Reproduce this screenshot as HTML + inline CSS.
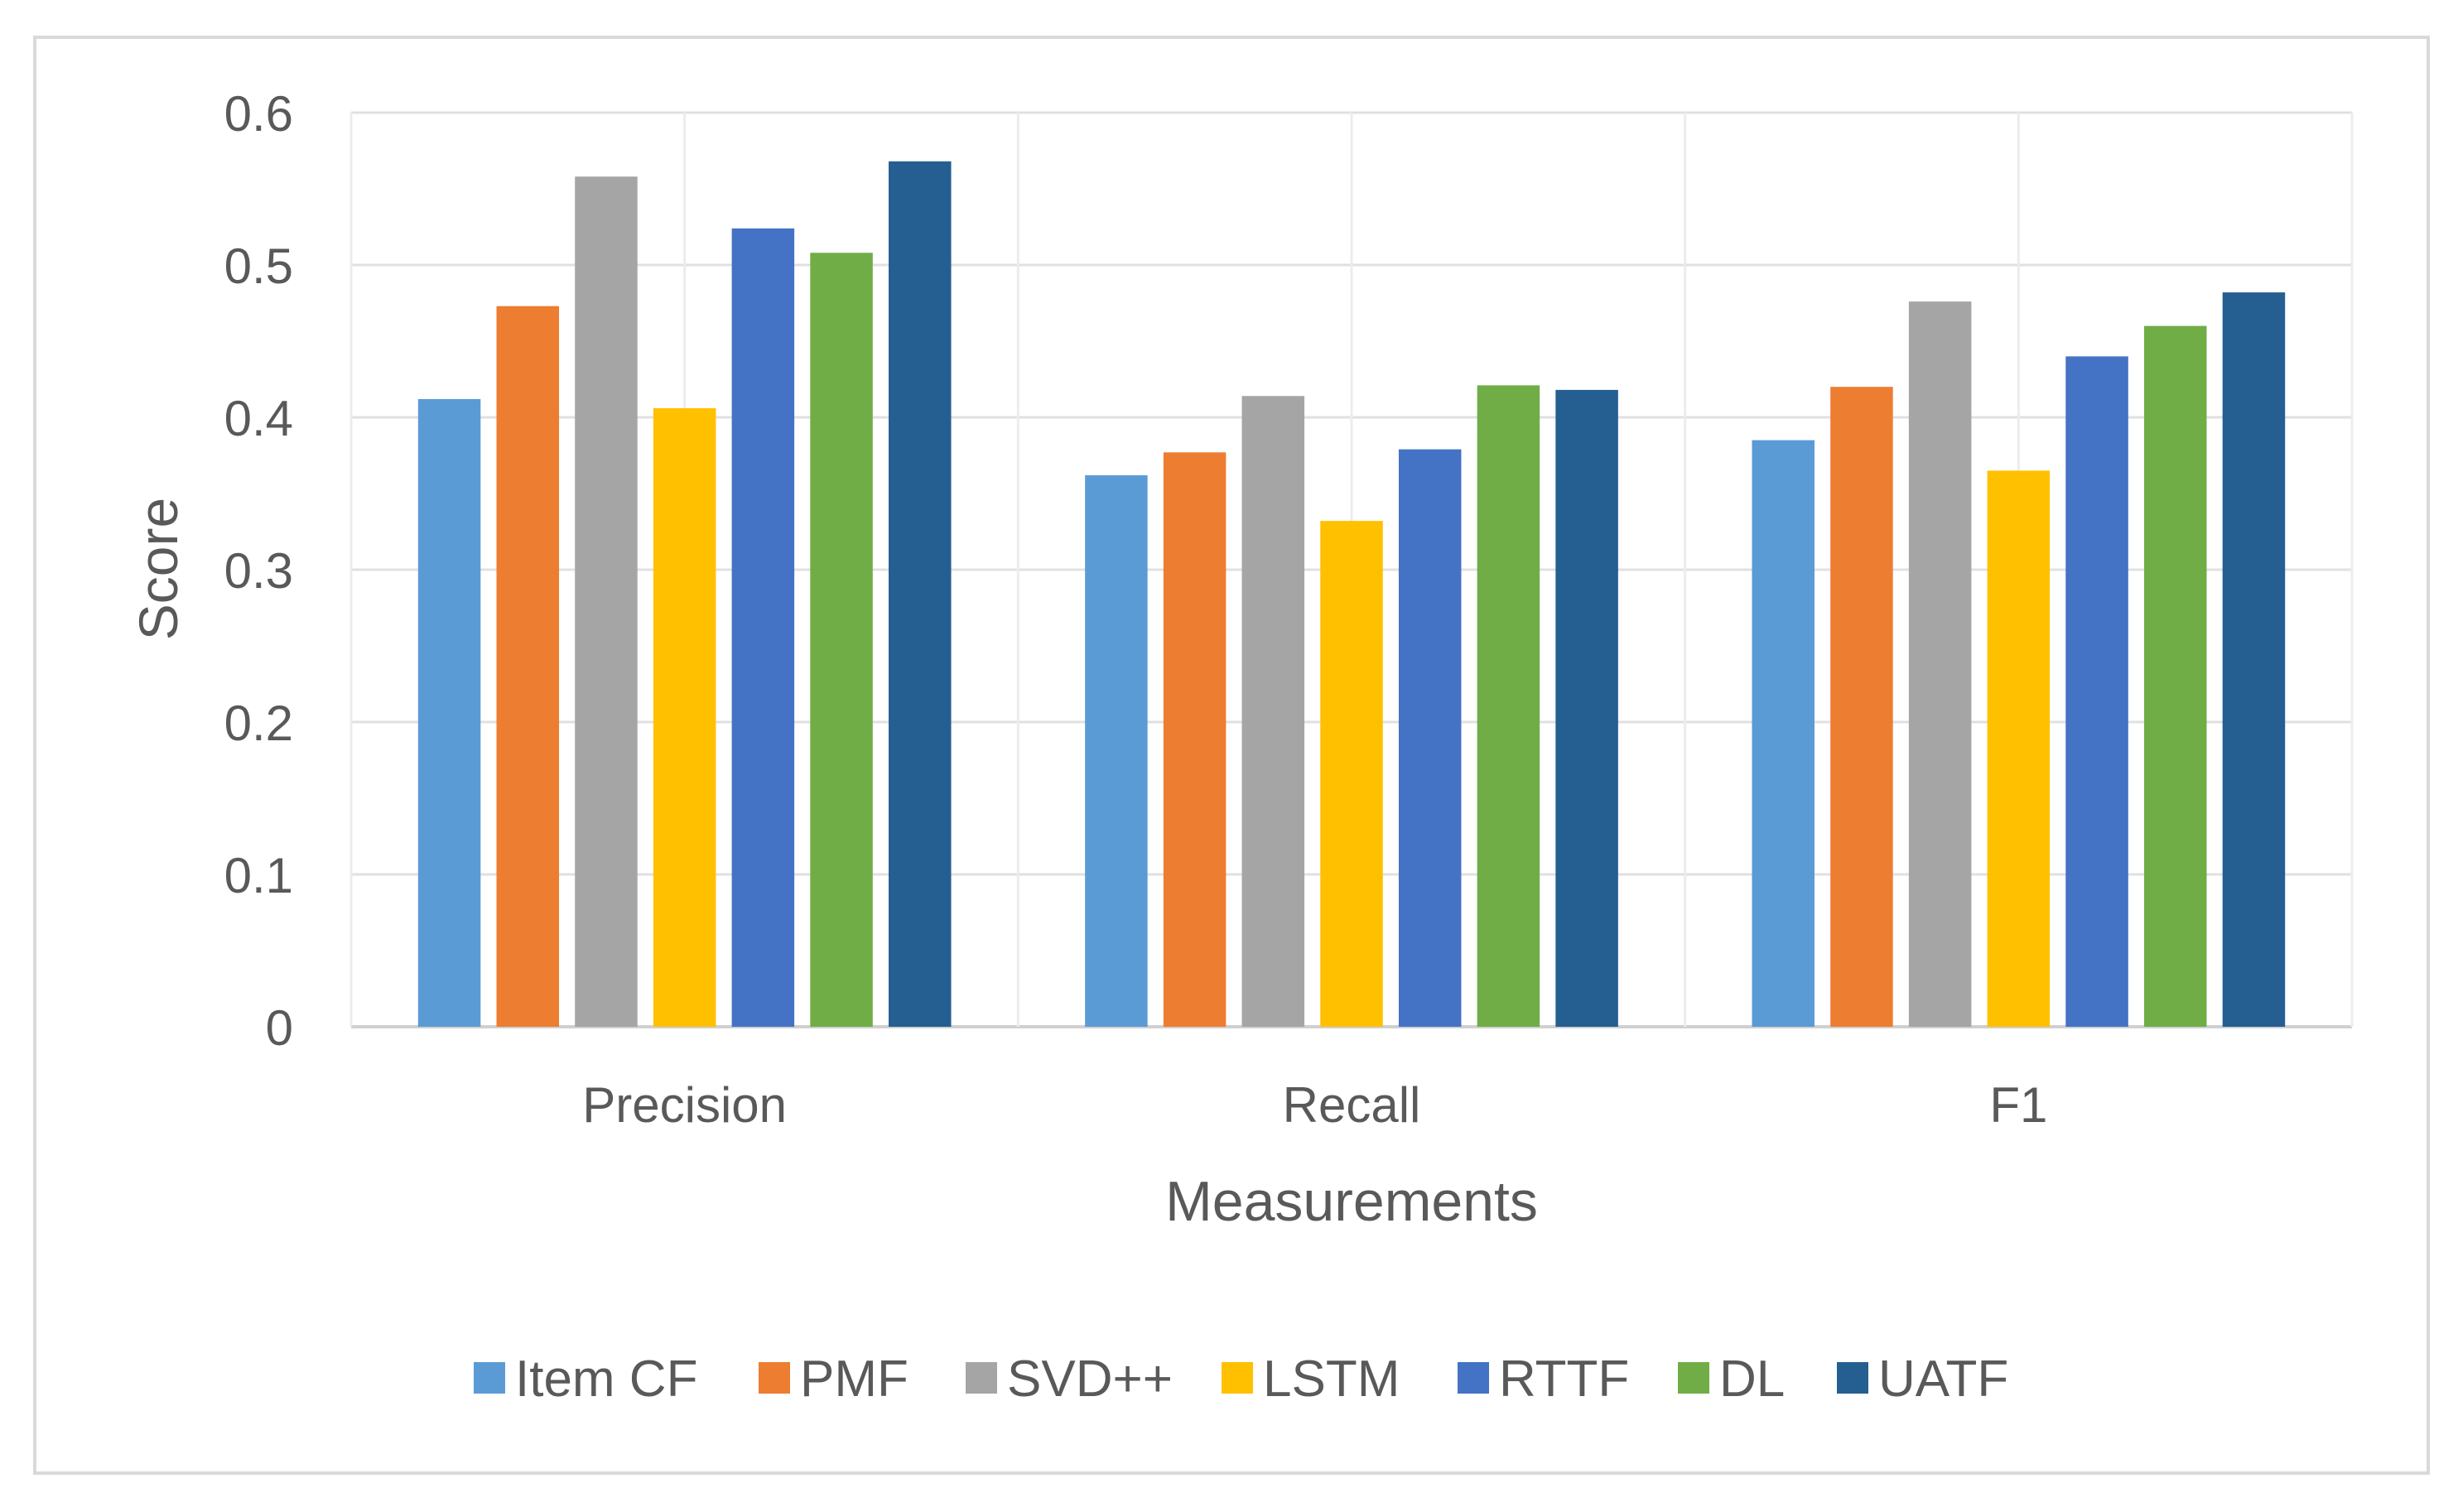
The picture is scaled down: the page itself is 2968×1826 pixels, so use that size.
<!DOCTYPE html>
<html><head><meta charset="utf-8"><style>
body{margin:0;background:#fff;}
svg{display:block;font-family:"Liberation Sans",sans-serif;}
</style></head><body>
<svg id="chart" width="2968" height="1826" viewBox="0 0 2968 1826">
<rect x="42" y="45" width="2890" height="1734" fill="#fff" stroke="#d9d9d9" stroke-width="4"/>
<g id="grid"></g><g id="bars"></g><g id="labels"></g><g id="legend"></g>
<text x="214" y="687" transform="rotate(-90 214 687)" text-anchor="middle" font-size="66" fill="#595959">Score</text>
<text x="1632" y="1474" text-anchor="middle" font-size="68" fill="#595959">Measurements</text>
</svg>
<script>
const categories=["Precision","Recall","F1"];
const seriesNames=["Item CF","PMF","SVD++","LSTM","RTTF","DL","UATF"];
const itemCF=[0.412,0.362,0.385];
const pmf=[0.473,0.377,0.420];
const svdpp=[0.558,0.414,0.476];
const lstm=[0.406,0.332,0.365];
const rttf=[0.524,0.379,0.440];
const dl=[0.508,0.421,0.460];
const uatf=[0.568,0.418,0.482];
const yTicks=[0,0.1,0.2,0.3,0.4,0.5,0.6];
const yTickLabels=["0","0.1","0.2","0.3","0.4","0.5","0.6"];
const colors=["#5b9bd5","#ed7d31","#a5a5a5","#ffc000","#4472c4","#70ad47","#255e91"];
const series=[itemCF,pmf,svdpp,lstm,rttf,dl,uatf];
const NS="http://www.w3.org/2000/svg";
const L=424,R=2840,T=136,B=1240,yMax=0.6;
const y=v=>B-(v/yMax)*(B-T);
const catW=(R-L)/categories.length;
const step=94.7,bw=75.5,pad=(catW-(series.length*step-(step-bw)))/2;
const x=(c,s)=>L+c*catW+pad+s*step;
function mk(tag,attrs,parent){const e=document.createElementNS(NS,tag);for(const k in attrs)e.setAttribute(k,attrs[k]);parent.appendChild(e);return e;}
const grid=document.getElementById('grid'),bars=document.getElementById('bars'),labels=document.getElementById('labels'),legend=document.getElementById('legend');
yTicks.forEach((t,i)=>{
 const ln=mk('line',{x1:L,x2:R,y1:y(t),y2:y(t),stroke:i===0?'#d0d0d0':'#e0e0e0','stroke-width':i===0?4:3},grid);
 
 
 const tx=mk('text',{x:354,y:y(t)+22,'text-anchor':'end','font-size':60,fill:'#595959'},labels);
 tx.textContent=yTickLabels[i];
 
 
});
for(let i=0;i<=categories.length*2;i++){
 const gx=L+i*catW/2;
 const ln=mk('line',{x1:gx,x2:gx,y1:T,y2:B,stroke:'#ececec','stroke-width':3},grid);
 
 
}
categories.forEach((c,ci)=>{
 series.forEach((s,si)=>{
  const r=mk('rect',{x:x(ci,si),y:y(s[ci]),width:bw,height:B-y(s[ci]),fill:colors[si]},bars);
  
  
 });
 const tx=mk('text',{x:L+(ci+0.5)*catW,y:1355,'text-anchor':'middle','font-size':60,fill:'#595959'},labels);
 tx.textContent=c;
 
 
});
const legX=[572,916,1166,1475,1760,2026,2218];
seriesNames.forEach((n,i)=>{
 const g=mk('g',{},legend);
 
 
 mk('rect',{x:legX[i],y:1645,width:38,height:38,fill:colors[i]},g);
 const t=mk('text',{x:legX[i]+50,y:1686,'font-size':62,fill:'#595959'},g);
 t.textContent=n;
});
</script>
</body></html>
